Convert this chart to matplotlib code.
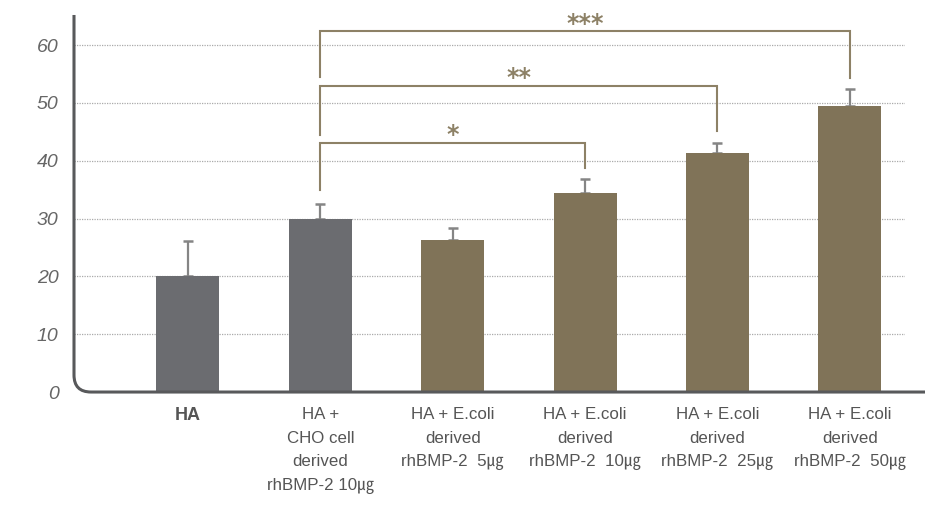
import matplotlib
matplotlib.use("Agg")
import matplotlib.pyplot as plt
from matplotlib.path import Path
from matplotlib.patches import PathPatch
import numpy as np

plt.rcParams['font.family'] = ['Liberation Sans', 'Noto Sans CJK KR', 'DejaVu Sans']

# Group labels
categories = [
    "HA",
    "HA +\nCHO cell\nderived\nrhBMP-2 10㎍",
    "HA + E.coli\nderived\nrhBMP-2  5㎍",
    "HA + E.coli\nderived\nrhBMP-2  10㎍",
    "HA + E.coli\nderived\nrhBMP-2  25㎍",
    "HA + E.coli\nderived\nrhBMP-2  50㎍",
]
means = [20.0, 30.0, 26.3, 34.5, 41.4, 49.4]
errors = [6.2, 2.5, 2.0, 2.4, 1.7, 3.0]
bar_groups = ["control", "control", "ecoli", "ecoli", "ecoli", "ecoli"]
yticks = [0, 10, 20, 30, 40, 50, 60]

# Significance brackets: (from, to, bracket top, left leg end, right leg end, label)
brackets = [
    (1, 3, 43.1, 35.0, 38.8, "*"),
    (1, 4, 53.0, 44.4, 45.2, "**"),
    (1, 5, 62.4, 54.5, 54.3, "***"),
]

GRAY = "#6b6c70"
OLIVE = "#807358"
BRACKET = "#8d8166"
colors = {"control": GRAY, "ecoli": OLIVE}

fig = plt.figure(figsize=(9.25, 5.08), dpi=100)
ax = fig.add_axes([0.080, 0.2283, 0.898, 0.7422])

x = np.arange(len(categories))
ax.set_xlim(-0.861, 5.415)
ax.set_ylim(0, 65.2)

# dotted grid
for v in yticks[1:]:
    ax.axhline(v, color="#aaaaaa", lw=0.9, ls=(0, (1, 1)), zorder=0)

ax.bar(x, means, width=0.476, color=[colors[g] for g in bar_groups], zorder=2)
ax.errorbar(x, means, yerr=[np.zeros(len(errors)), errors], fmt="none",
            ecolor="#858585", elinewidth=1.6, capsize=3.5, capthick=1.8, zorder=1)

for i0, i1, top, l0, l1, lab in brackets:
    ax.plot([x[i0], x[i0], x[i1], x[i1]], [l0, top, top, l1],
            color=BRACKET, lw=1.5, solid_joinstyle="miter", zorder=3, clip_on=False)
    ax.text((x[i0] + x[i1]) / 2, top + 1.3, lab, ha="center", va="center",
            fontsize=17, fontweight="bold", color=BRACKET, family="DejaVu Sans")

# axis frame with rounded lower-left corner
for s in ax.spines.values():
    s.set_visible(False)
fig.canvas.draw()
bb = ax.get_window_extent()
W, H = fig.bbox.width, fig.bbox.height
x0, y0 = bb.x0 / W, bb.y0 / H
ytop = bb.y1 / H
r = 17.0
rx, ry = r / W, r / H
verts = [(x0, ytop), (x0, y0 + ry), (x0, y0), (x0 + rx, y0), (1.0, y0)]
codes = [Path.MOVETO, Path.LINETO, Path.CURVE3, Path.CURVE3, Path.LINETO]
frame = PathPatch(Path(verts, codes), transform=fig.transFigure, fill=False,
                  edgecolor="#58595b", lw=2.2, capstyle="butt", zorder=5)
fig.add_artist(frame)

ax.set_yticks(yticks)
ax.set_yticklabels([str(v) for v in yticks], fontstyle="italic", fontsize=14, color="#666666")
ax.tick_params(axis="y", length=0, pad=11)
ax.set_xticks(x)
ax.set_xticklabels([])
ax.tick_params(axis="x", length=0)

for xi, lab in zip(x, categories):
    bold = (lab == "HA")
    ax.text(xi, -2.6, lab, ha="center", va="top", fontsize=12.2 if not bold else 13,
            fontweight="bold" if bold else "normal", color="#555555",
            linespacing=1.72, transform=ax.transData, clip_on=False)

fig.savefig("out.png", dpi=100)
